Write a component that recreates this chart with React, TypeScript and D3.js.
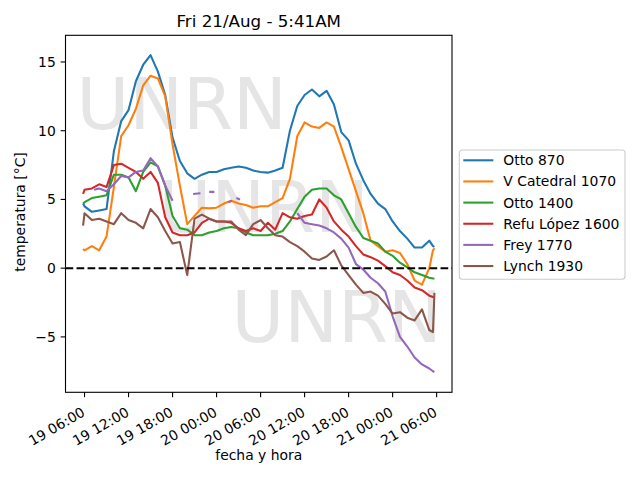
import React from 'react'
import * as d3 from 'd3'

// hours counted from 19/Aug 00:00
const hours = [
  5.8, 6, 7, 8, 9, 10, 11, 12, 13, 14,
  15, 16, 17, 18, 19, 20, 21, 22, 23, 24,
  25, 26, 27, 28, 29, 30, 31, 32, 33, 34,
  35, 36, 37, 38, 39, 40, 41, 42, 43, 44,
  45, 46, 47, 48, 49, 50, 51, 52, 53, 53.5,
  53.7,
]

const otto870 = [
  4.7, 4.5, 4.1, 4.2, 4.3, 8.5, 10.7, 11.5, 13.6, 14.8,
  15.5, 14.3, 12.6, 9.5, 7.8, 6.9, 6.5, 6.8, 7.0, 7.0,
  7.2, 7.3, 7.4, 7.3, 7.1, 7.0, 6.95, 7.1, 7.3, 10.0,
  11.8, 12.6, 13.0, 12.5, 12.9, 11.9, 9.9, 9.3, 7.6, 6.4,
  5.4, 4.7, 4.3, 3.4, 2.7, 2.15, 1.5, 1.5, 2.0, 1.6,
  1.55,
]

const vCatedral = [
  1.4, 1.3, 1.6, 1.3, 2.3, 5.9, 9.6, 10.4, 11.6, 13.3,
  14.0, 13.8, 12.5, 9.0, 6.0, 3.2, 3.8, 4.4, 4.35, 4.4,
  4.7, 4.9, 4.7, 4.6, 4.4, 4.5, 4.5, 4.8, 5.1, 6.5,
  9.6, 10.6, 10.3, 10.2, 10.6, 10.3, 8.8, 7.2, 5.6, 4.0,
  2.0, 1.6, 1.2, 1.3, 1.1, 0.3, -0.9, -1.2, 0.0, 1.3,
  1.45,
]

const otto1400 = [
  4.7, 4.8, 5.1, 5.2, 5.3, 6.8, 6.8, 6.6, 5.6, 7.0,
  7.7, 7.4, 6.0, 3.8, 2.9, 2.8, 2.4, 2.4, 2.6, 2.7,
  2.9, 3.0, 2.9, 2.6, 2.4, 2.4, 2.4, 2.5, 2.7, 3.4,
  4.3, 5.2, 5.7, 5.8, 5.8, 5.3, 5.0, 4.0, 3.0, 2.2,
  2.0, 1.8, 1.2, 0.9, 0.4, 0.05, -0.3, -0.5, -0.7, -0.75,
  -0.75,
]

const refuLopez = [
  5.4, 5.7, 5.8, 6.1, 5.9, 7.5, 7.6, 7.3, 7.0, 6.5,
  7.0, 6.2, 3.7, 2.6, 2.4, 2.4, 2.6, 3.3, 3.6, 3.4,
  3.4, 3.3, 2.9, 2.7, 2.9, 2.7, 3.3, 2.8, 4.0, 3.7,
  3.6, 3.8, 3.9, 5.0, 4.4, 3.4, 2.8, 2.3, 1.6, 1.0,
  0.8, 0.55, 0.15, -0.3, -0.5, -0.9, -1.4, -1.6, -2.0, -2.1,
  -2.1,
]

const lynch = [
  3.1, 4.0, 3.5, 3.6, 3.4, 3.2, 4.0, 3.5, 3.3, 2.9,
  4.3, 3.7, 2.7, 1.8, 1.9, -0.5, 3.6, 3.9, 3.6, 3.4,
  3.4, 3.4, 2.8, 2.4, 3.2, 3.5, 2.9, 2.4, 2.3, 1.9,
  1.6, 1.2, 0.7, 0.6, 0.85, 1.3, 0.2, -0.5, -1.2, -1.8,
  -1.7, -2.0, -2.6, -3.3, -3.2, -3.6, -3.8, -3.0, -4.5, -4.65,
  -1.8,
]

// Frey has holes in its record, so it keeps its own time stamps
const freyHours = [
  7.3, 8, 9, 10, 11, 12, 13, 14, 15, 16, 17, 18, 19,
  20.8, 21.8, 22.4, 23.0, 23.7, 24.5, 25.6, 26.1, 26.4, 26.7, 27.2, 30,
  35, 36, 37, 38, 39, 40, 41, 42, 43, 44, 45, 46, 47, 48, 49, 50, 51, 52, 53, 53.5, 53.7,
]
const freyTemps = [
  5.7, 5.8, 5.6, 6.1, 6.7, 6.6, 7.0, 7.1, 8.0, 7.4, 6.0, 4.9, null,
  5.4, 5.45, null, 5.55, 5.55, null, 4.8, 4.9, null, 5.1, 5.0, null,
  4.0, 3.3, 3.2, 3.1, 2.9, 2.6, 2.15, 1.5, 0.3, -0.1, -0.7, -1.1, -1.7, -3.5, -5.0, -5.7, -6.5, -7.0, -7.3, -7.5, -7.55,
]

const stations = ['Otto 870', 'V Catedral 1070', 'Otto 1400', 'Refu López 1600', 'Frey 1770', 'Lynch 1930']
const colors = ['#1f77b4', '#ff7f0e', '#2ca02c', '#d62728', '#9467bd', '#8c564b']
const yDomain = [-9.03, 16.94]

const base = new Date(2020, 7, 19, 0, 0).getTime()
const toDate = (h: number) => new Date(base + h * 3600e3)

const W = 640
const H = 480
const left = 65.5
const right = 452
const top = 35.3
const bottom = 392.3
const font = 'DejaVu Sans, sans-serif'

type Pt = { t: Date; v: number | null }

const App = () => {
  const series: Pt[][] = [otto870, vCatedral, otto1400, refuLopez, null, lynch].map((vals, i) =>
    i === 4
      ? freyHours.map((h, k) => ({ t: toDate(h), v: freyTemps[k] }))
      : (vals as number[]).map((v, k) => ({ t: toDate(hours[k]), v }))
  )

  const allT = [...hours, ...freyHours]
  const t0 = d3.min(allT) as number
  const t1 = d3.max(allT) as number
  const pad = (t1 - t0) * 0.05
  const x = d3.scaleTime().domain([toDate(t0 - pad), toDate(t1 + pad)]).range([left, right])
  const y = d3.scaleLinear().domain(yDomain).range([bottom, top])

  const line = d3
    .line<Pt>()
    .defined((d) => d.v !== null)
    .x((d) => x(d.t))
    .y((d) => y(d.v as number))

  const xTicks = x.ticks(d3.timeHour.every(6) as any)
  const fmt = d3.timeFormat('%d %H:%M')
  const yTicks = y.ticks(5)
  const yFmt = d3.format('')

  const marks = [
    { x: 76.5, y: 129 },
    { x: 158.5, y: 232 },
    { x: 231.5, y: 342 },
  ]

  return (
    <svg width={W} height={H} style={{ position: 'absolute', left: 0, top: 0, background: '#fff' }} fontFamily={font}>
      <rect width={W} height={H} fill="#fff" />
      <defs>
        <clipPath id="plot">
          <rect x={left} y={top} width={right - left} height={bottom - top} />
        </clipPath>
      </defs>

      <g clipPath="url(#plot)">
        {marks.map((m, i) => (
          <text key={i} x={m.x} y={m.y} fontSize={72} fill="#e5e5e5">UNRN</text>
        ))}
        {series.map((s, i) => (
          <path key={i} d={line(s) || ''} fill="none" stroke={colors[i]} strokeWidth={2.08} strokeLinejoin="round" />
        ))}
        <line x1={left} x2={right} y1={y(0)} y2={y(0)} stroke="#000" strokeWidth={2.08} strokeDasharray="7.7,3.33" />
      </g>

      <rect x={left} y={top} width={right - left} height={bottom - top} fill="none" stroke="#000" strokeWidth={1.1} />

      {xTicks.map((t, i) => (
        <g key={i}>
          <line x1={x(t)} x2={x(t)} y1={bottom} y2={bottom + 4.86} stroke="#000" strokeWidth={1.1} />
          <text
            x={x(t) + 1.5}
            y={415}
            fontSize={13.9}
            textAnchor="end"
            transform={`rotate(-30 ${x(t) + 1.5} 415)`}
          >
            {fmt(t)}
          </text>
        </g>
      ))}

      {yTicks.map((v, i) => (
        <g key={i}>
          <line x1={left - 4.86} x2={left} y1={y(v)} y2={y(v)} stroke="#000" strokeWidth={1.1} />
          <text x={left - 9.7} y={y(v) + 5} fontSize={13.9} textAnchor="end">
            {yFmt(v)}
          </text>
        </g>
      ))}

      <text x={(left + right) / 2} y={27.3} fontSize={16.7} textAnchor="middle">Fri 21/Aug - 5:41AM</text>
      <text x={(left + right) / 2} y={460} fontSize={13.9} textAnchor="middle">fecha y hora</text>
      <text x={25} y={212} fontSize={13.9} textAnchor="middle" transform="rotate(-90 25 212)">temperatura [°C]</text>

      <g>
        <rect x={459.3} y={150} width={165.7} height={129.3} rx={3} fill="#fff" fillOpacity={0.8} stroke="#cccccc" strokeWidth={1.1} />
        {stations.map((name, i) => {
          const ly = 160.3 + i * 21.15
          return (
            <g key={name}>
              <line x1={463.3} x2={493.3} y1={ly} y2={ly} stroke={colors[i]} strokeWidth={2.08} />
              <text x={503.3} y={ly + 5} fontSize={13.9}>{name}</text>
            </g>
          )
        })}
      </g>
    </svg>
  )
}

export default App
